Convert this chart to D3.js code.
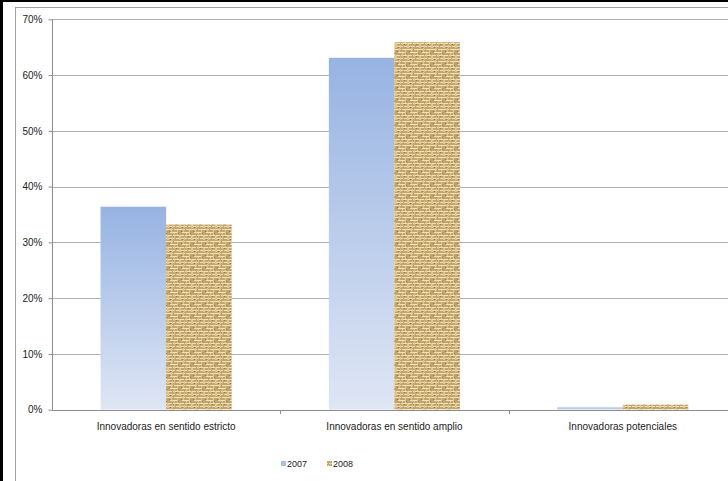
<!DOCTYPE html>
<html><head><meta charset="utf-8">
<script src="https://cdn.jsdelivr.net/npm/d3@7"></script>
<style>body{margin:0;background:#fff}svg{display:block;font-family:"Liberation Sans",Arial,sans-serif}</style>
</head><body><svg id="c" width="728" height="481"></svg>
<script>
const categories = ["Innovadoras en sentido estricto", "Innovadoras en sentido amplio", "Innovadoras potenciales"];
const seriesNames = ["2007", "2008"];
const values2007 = [36.4, 63.1, 0.4];
const values2008 = [33.2, 65.9, 0.9];
const yTicks = [0, 10, 20, 30, 40, 50, 60, 70];

const svg = d3.select("#c");
const defs = svg.append("defs");
const grad = defs.append("linearGradient").attr("id","g2007").attr("x1",0).attr("y1",0).attr("x2",0).attr("y2",1);
grad.append("stop").attr("offset","0%").attr("stop-color","#97b3e2");
grad.append("stop").attr("offset","100%").attr("stop-color","#dfe6f4");
// burlap texture pattern (woven look)
const pat = defs.append("pattern").attr("id","burlap").attr("patternUnits","userSpaceOnUse").attr("width",12).attr("height",12);
pat.append("rect").attr("width",12).attr("height",12).attr("fill","#c3a56c");
const light = "#efe2b8", mid = "#dcc693", dark = "#94764a";
[[0,1,5],[6,1,6],[2,4,7],[0,7,4],[5,7,7],[1,10,6],[8,10,4]].forEach(([x,y,w])=>
  pat.append("rect").attr("x",x).attr("y",y).attr("width",w).attr("height",1).attr("fill",light));
[[3,0,4],[9,2,5],[6,5,4],[0,8,4],[11,7,5],[4,9,3]].forEach(([x,y,h])=>
  pat.append("rect").attr("x",x).attr("y",y).attr("width",1).attr("height",h).attr("fill",mid));
[[1,3],[10,5],[8,8],[2,11]].forEach(([x,y])=>
  pat.append("rect").attr("x",x).attr("y",y).attr("width",1).attr("height",1).attr("fill",dark));

// frames
svg.append("rect").attr("x",0).attr("y",0).attr("width",728).attr("height",481).attr("fill","#fff");
svg.append("rect").attr("x",15.5).attr("y",7.5).attr("width",740).attr("height",500).attr("fill","none").attr("stroke","#a0a0a0").attr("stroke-width",1);
svg.append("rect").attr("x",0).attr("y",0).attr("width",3).attr("height",481).attr("fill","#000");
svg.append("rect").attr("x",0).attr("y",0).attr("width",728).attr("height",2).attr("fill","#000");

const x0 = 52, y0 = 409.7, yTop = 19.3;
const x = d3.scaleBand().domain(categories).range([x0, x0 + 3*228.3]).paddingInner(0).paddingOuter(0);
const xi = d3.scaleBand().domain(seriesNames).range([0, x.bandwidth()]).paddingOuter(0.74).paddingInner(0);
const y = d3.scaleLinear().domain([0,70]).range([y0, yTop]);

// gridlines
svg.append("g").selectAll("line").data(yTicks.filter(t=>t>0)).join("line")
  .attr("x1",x0).attr("x2",728).attr("y1",d=>Math.round(y(d))+0.5).attr("y2",d=>Math.round(y(d))+0.5)
  .attr("stroke","#b0b0b0");

// bars
const data = categories.map((c,i)=>({c, v:[values2007[i], values2008[i]]}));
const gBars = svg.append("g");
data.forEach(d=>{
  gBars.append("rect").attr("x",x(d.c)+xi("2007")).attr("y",y(d.v[0])).attr("width",xi.bandwidth()).attr("height",y0-y(d.v[0]))
    .attr("fill","url(#g2007)");
  gBars.append("rect").attr("x",x(d.c)+xi("2008")).attr("y",y(d.v[1])).attr("width",xi.bandwidth()).attr("height",y0-y(d.v[1]))
    .attr("fill","url(#burlap)");
});

// y axis
const yAxis = d3.axisLeft(y).tickValues(yTicks).tickFormat(d=>d+"%").tickSize(4).tickPadding(6);
const ya = svg.append("g").attr("transform",`translate(${x0+0.5},0)`).call(yAxis);
ya.select(".domain").attr("stroke","#8c8c8c").attr("d",`M0,${yTop}V${y0}`);
ya.selectAll(".tick line").attr("stroke","#8c8c8c");
ya.selectAll(".tick text").attr("font-size",10).attr("fill","#222").attr("font-family","Liberation Sans, Arial, sans-serif");

// x axis
const xa = svg.append("g").attr("transform",`translate(0,${Math.round(y0)+0.5})`)
  .call(d3.axisBottom(x).tickSize(0).tickPadding(12));
xa.select(".domain").attr("stroke","#8c8c8c").attr("d",`M${x0},0H728`);
xa.selectAll(".tick text").attr("font-size",10).attr("fill","#222").attr("font-family","Liberation Sans, Arial, sans-serif");
svg.append("g").selectAll("line").data(categories.slice(1)).join("line")
  .attr("x1",d=>Math.round(x(d))+0.5).attr("x2",d=>Math.round(x(d))+0.5)
  .attr("y1",Math.round(y0)).attr("y2",Math.round(y0)+4).attr("stroke","#8c8c8c");

// legend
const legend = svg.append("g").attr("font-size",9).attr("fill","#222");
const legX = [281, 327];
seriesNames.forEach((s,i)=>{
  legend.append("rect").attr("x",legX[i]).attr("y",461).attr("width",5).attr("height",5)
    .attr("fill", i===0 ? "#a9bfe6" : "url(#burlap)");
  legend.append("text").attr("x",legX[i]+6).attr("y",467).text(s);
});
</script></body></html>
